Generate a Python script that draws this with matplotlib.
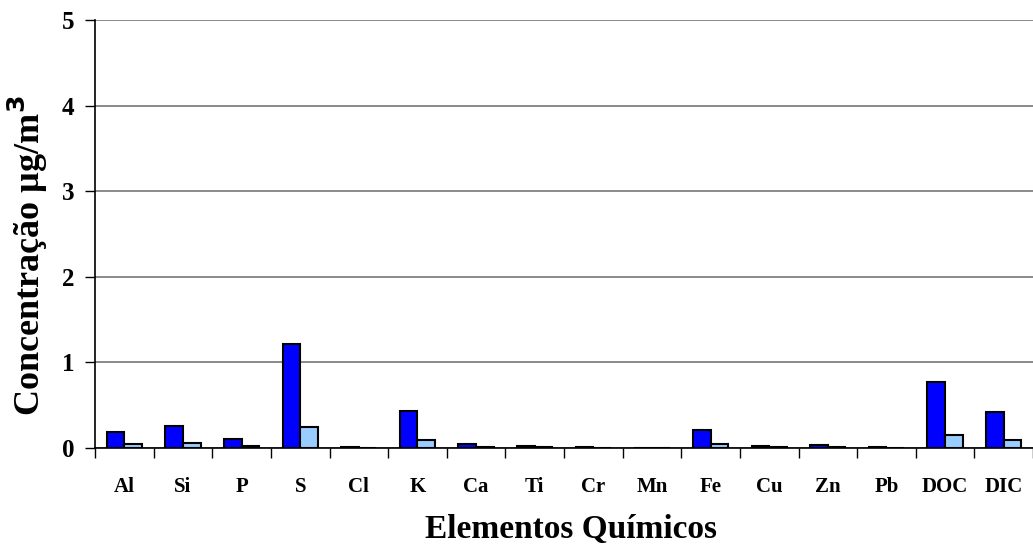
import numpy as np
import matplotlib.pyplot as plt

# ── Dados ────────────────────────────────────────────────────
elementos = ["Al", "Si", "P", "S", "Cl", "K", "Ca", "Ti", "Cr", "Mn",
             "Fe", "Cu", "Zn", "Pb", "DOC", "DIC"]
serie_escura = [0.19, 0.26, 0.105, 1.215, 0.01, 0.43, 0.05, 0.02, 0.01, 0.0,
                0.21, 0.02, 0.035, 0.015, 0.766, 0.415]
serie_clara = [0.047, 0.054, 0.027, 0.24, 0.0, 0.089, 0.015, 0.01, 0.0, 0.0,
               0.045, 0.01, 0.01, 0.0, 0.155, 0.089]

plt.rcParams['font.family'] = ['Liberation Serif', 'DejaVu Serif']
plt.rcParams['font.weight'] = 'bold'

fig = plt.figure(figsize=(10.33, 5.47), dpi=100)
ax = fig.add_axes([0.092, 0.181, 0.908, 0.782])

x = np.arange(len(elementos))
w = 0.3
ax.bar(x - w/2, serie_escura, w, color='#0000FF', edgecolor='black', linewidth=1.5, zorder=3)
ax.bar(x + w/2, serie_clara, w, color='#99CCFF', edgecolor='black', linewidth=1.5, zorder=3)

ax.set_xlim(-0.5, len(elementos) - 0.5)
ax.set_ylim(0, 5)
ax.set_yticks([0, 1, 2, 3, 4, 5])
ax.yaxis.grid(True, color='#777777', linewidth=1.2, zorder=0)
ax.set_yticklabels(['0', '1', '2', '3', '4', '5'], fontsize=18, fontweight='bold')

# rotulos no centro, ticks nas divisas
ax.set_xticks(x)
ax.set_xticklabels(elementos, fontsize=15, fontweight='bold')
ax.tick_params(axis='x', length=0, pad=21)
ax.set_xticks(np.arange(-0.5, len(elementos)), minor=True)
ax.tick_params(axis='x', which='minor', length=7, width=1, direction='out')
ax.tick_params(axis='y', length=7, width=1, direction='out', pad=8)

for s in ['top', 'right']:
    ax.spines[s].set_visible(False)
ax.spines['left'].set_linewidth(1.2)
ax.spines['bottom'].set_linewidth(1.2)

ax.set_xlabel("Elementos Químicos", fontsize=24, fontweight='bold')
ax.xaxis.set_label_coords(0.5075, -0.155)
ax.set_ylabel("Concentração µg/m$^\\mathbf{3}$", fontsize=26, fontweight='bold')
ax.yaxis.set_label_coords(-0.048, 0.45)

plt.savefig("out.png", dpi=100)
